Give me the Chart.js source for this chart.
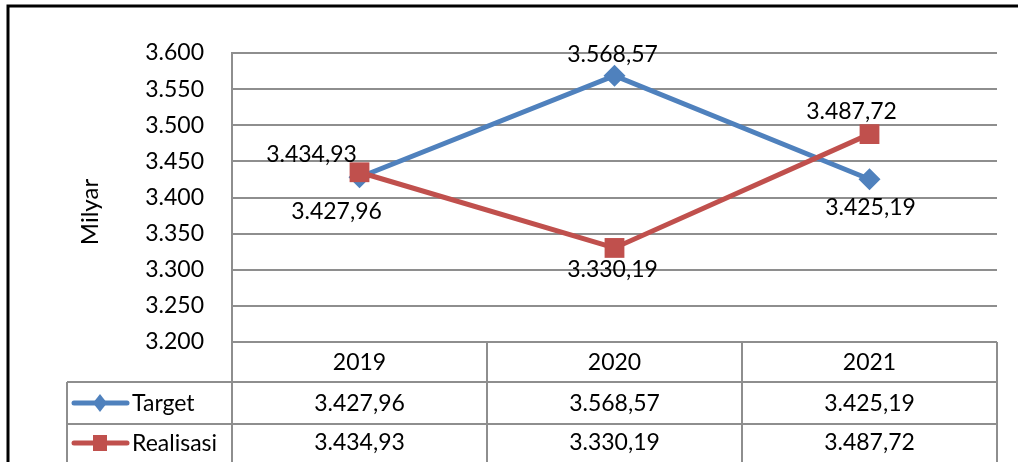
<!DOCTYPE html>
<html>
<head>
<meta charset="utf-8">
<script src="https://cdn.jsdelivr.net/npm/chart.js@4.4.1/dist/chart.umd.min.js"></script>
<style>
  html, body { margin: 0; padding: 0; background: #fff; }
</style>
</head>
<body>
<canvas id="chart" width="1018" height="462"></canvas>
<script>
// data
var years = ['2019', '2020', '2021'];
var target = [3427.96, 3568.57, 3425.19];
var realisasi = [3434.93, 3330.19, 3487.72];
var seriesNames = ['Target', 'Realisasi'];
var yMin = 3200, yMax = 3600, yStep = 50;
var yTitle = 'Milyar';

// label nudges (px) so the value labels sit where Excel put them
var targetShift = [[-23, 34], [-2, -21], [1, 28]];
var realisasiShift = [[-48, -18], [-2, 22], [-18, -23]];

var BLUE = '#4F81BD';
var RED = '#C0504D';
var GRID = '#8e8e8e';
var FONT = 'Lato, "Open Sans", sans-serif';

function thousands(s) {
  return s.replace(/\B(?=(\d{3})+(?!\d))/g, '.');
}
function fmt(v) {
  var p = v.toFixed(2).split('.');
  return thousands(p[0]) + ',' + p[1];
}

function drawMarker(ctx, style, x, y, color) {
  ctx.fillStyle = color;
  ctx.beginPath();
  if (style === 'diamond') {
    ctx.moveTo(x, y - 9); ctx.lineTo(x + 7, y); ctx.lineTo(x, y + 9); ctx.lineTo(x - 7, y);
    ctx.closePath();
  } else {
    ctx.rect(x - 7, y - 8, 14, 16);
  }
  ctx.fill();
}

// value labels next to each point
var valueLabels = {
  id: 'valueLabels',
  afterDatasetsDraw: function(chart) {
    var ctx = chart.ctx;
    ctx.save();
    ctx.font = '23px ' + FONT;
    ctx.fillStyle = '#000';
    ctx.textAlign = 'center';
    ctx.textBaseline = 'middle';
    chart.data.datasets.forEach(function(ds, i) {
      var meta = chart.getDatasetMeta(i);
      meta.data.forEach(function(pt, j) {
        var sh = ds.labelShift[j];
        ctx.fillText(fmt(ds.data[j]), pt.x + sh[0], pt.y + sh[1]);
      });
    });
    ctx.restore();
  }
};

// Excel-style data table under the plot, plus outer frame and axis title
var dataTable = {
  id: 'dataTable',
  afterDraw: function(chart) {
    var ctx = chart.ctx;
    var area = chart.chartArea;
    var xs = chart.scales.x;
    var half = (xs.getPixelForValue(1) - xs.getPixelForValue(0)) / 2;
    var legendLeft = 67;
    var r0 = area.bottom, r1 = r0 + 40, r2 = r1 + 42, r3 = chart.height;

    ctx.save();
    ctx.strokeStyle = GRID;
    ctx.lineWidth = 2;
    ctx.beginPath();
    // horizontal rules
    ctx.moveTo(legendLeft, r1); ctx.lineTo(area.right, r1);
    ctx.moveTo(legendLeft, r2); ctx.lineTo(area.right, r2);
    // vertical rules
    ctx.moveTo(legendLeft, r1); ctx.lineTo(legendLeft, r3);
    ctx.moveTo(area.left, r0); ctx.lineTo(area.left, r3);
    years.forEach(function(y, i) {
      var xr = xs.getPixelForValue(i) + half;
      ctx.moveTo(xr, r0); ctx.lineTo(xr, r3);
    });
    ctx.stroke();

    ctx.font = '23px ' + FONT;
    ctx.fillStyle = '#000';
    ctx.textBaseline = 'middle';
    ctx.textAlign = 'center';
    years.forEach(function(y, i) {
      var cx = xs.getPixelForValue(i);
      ctx.fillText(y, cx, (r0 + r1) / 2 + 1);
      ctx.fillText(fmt(target[i]), cx, (r1 + r2) / 2 + 1);
      ctx.fillText(fmt(realisasi[i]), cx, r2 + 19);
    });

    // legend keys inside the table
    var rows = [[(r1 + r2) / 2, BLUE, 'diamond'], [r2 + 19, RED, 'square']];
    rows.forEach(function(r, i) {
      ctx.strokeStyle = r[1];
      ctx.lineWidth = 5;
      ctx.lineCap = 'round';
      ctx.beginPath();
      ctx.moveTo(74, r[0]); ctx.lineTo(127, r[0]);
      ctx.stroke();
      drawMarker(ctx, r[2], 100, r[0], r[1]);
      ctx.fillStyle = '#000';
      ctx.textAlign = 'left';
      ctx.fillText(seriesNames[i], 132, r[0] + 1);
    });

    // axis title
    ctx.save();
    ctx.translate(90, 212);
    ctx.rotate(-Math.PI / 2);
    ctx.textAlign = 'center';
    ctx.font = '24px ' + FONT;
    ctx.fillText(yTitle, 0, 0);
    ctx.restore();

    // outer frame (only top and left show in the crop)
    ctx.strokeStyle = '#000';
    ctx.lineWidth = 3;
    ctx.lineCap = 'butt';
    ctx.beginPath();
    ctx.moveTo(8, chart.height); ctx.lineTo(8, 6); ctx.lineTo(chart.width, 6);
    ctx.stroke();
    ctx.restore();
  }
};

var ctx = document.getElementById('chart').getContext('2d');
var chart = new Chart(ctx, {
  type: 'line',
  data: {
    labels: years,
    datasets: [{
      label: seriesNames[0],
      data: target,
      labelShift: targetShift,
      borderColor: BLUE,
      backgroundColor: BLUE,
      borderWidth: 5,
      pointStyle: 'rectRot',
      pointRadius: 11,
      pointBorderWidth: 0,
      tension: 0,
      order: 1
    }, {
      label: seriesNames[1],
      data: realisasi,
      labelShift: realisasiShift,
      borderColor: RED,
      backgroundColor: RED,
      borderWidth: 5,
      pointStyle: 'rect',
      pointRadius: 14,
      pointBorderWidth: 0,
      tension: 0,
      order: 0
    }]
  },
  options: {
    responsive: false,
    animation: false,
    devicePixelRatio: 1,
    layout: { padding: { left: 0, top: 53, right: 21, bottom: 120 } },
    plugins: {
      legend: { display: false },
      tooltip: { enabled: false }
    },
    scales: {
      x: { display: false, offset: true },
      y: {
        min: yMin,
        max: yMax,
        afterFit: function(scale) { scale.width = 232; },
        grid: { color: GRID, lineWidth: 2, drawTicks: false },
        border: { color: GRID, width: 2 },
        ticks: {
          stepSize: yStep,
          padding: 28,
          color: '#000',
          font: { family: FONT, size: 23 },
          callback: function(v) { return thousands(String(v)); }
        }
      }
    }
  },
  plugins: [valueLabels, dataTable]
});
</script>
</body>
</html>
